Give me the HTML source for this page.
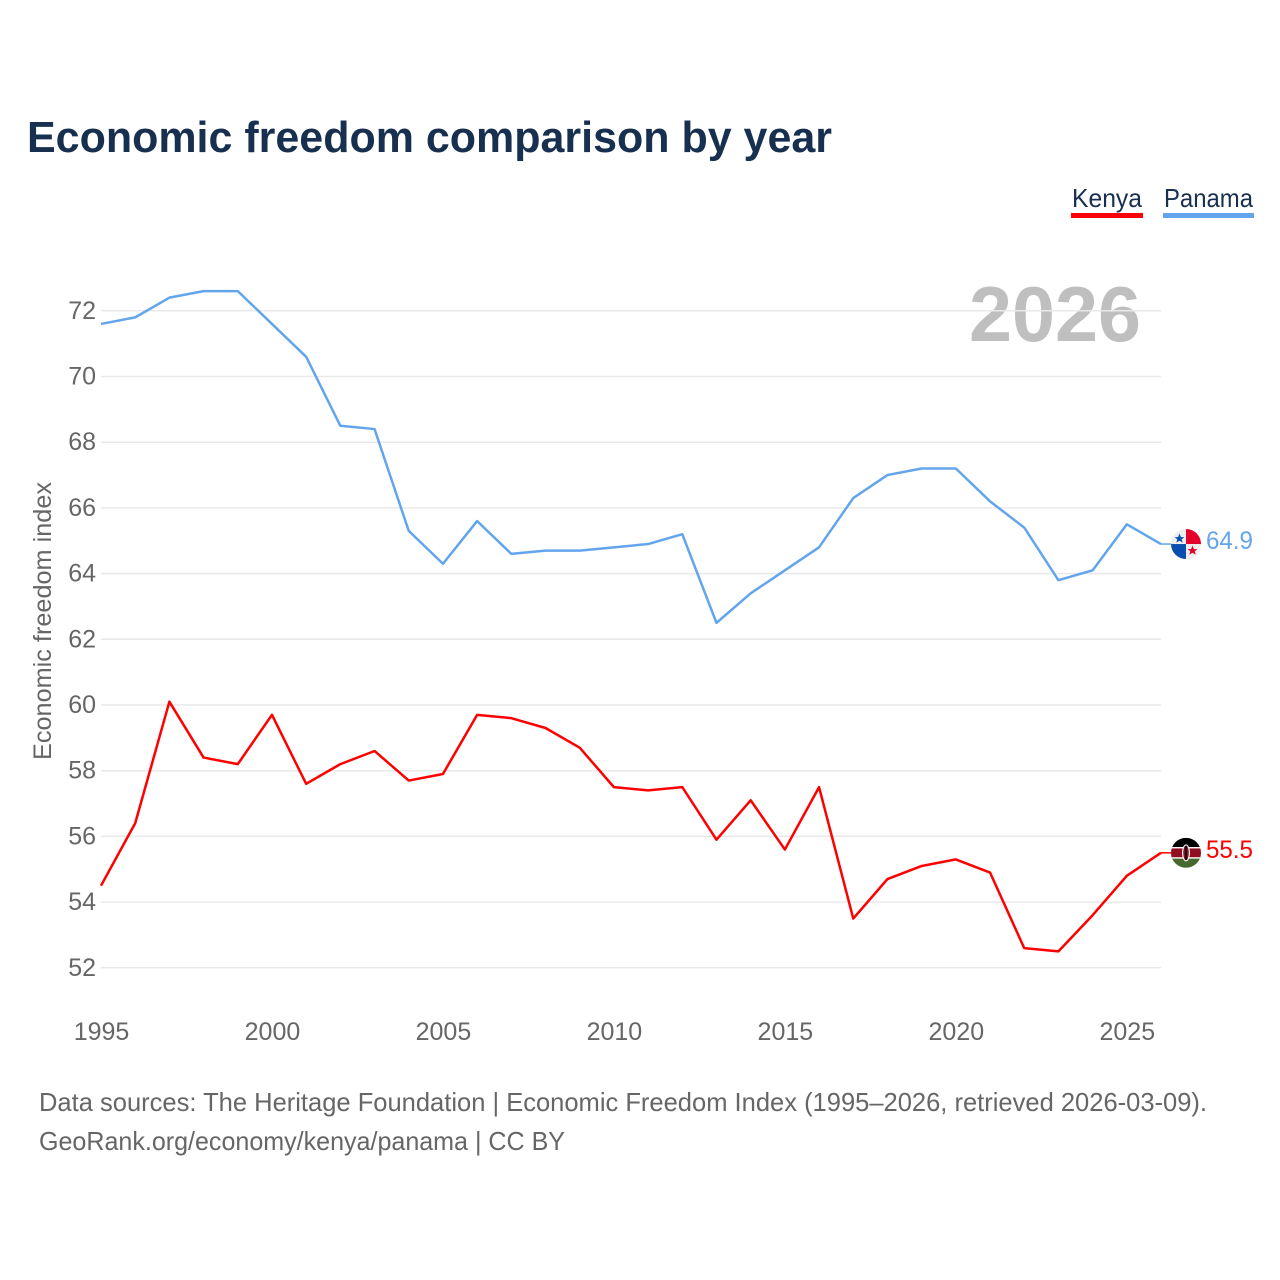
<!DOCTYPE html>
<html lang="en">
<head>
<meta charset="utf-8">
<title>Economic freedom comparison by year</title>
<style>
html,body{margin:0;padding:0;background:#fff;width:1280px;height:1280px;overflow:hidden}
svg{display:block;font-family:"Liberation Sans",sans-serif}
</style>
</head>
<body>
<svg id="chart" xmlns="http://www.w3.org/2000/svg" width="1280" height="1280" viewBox="0 0 1280 1280">
  <defs>
    <clipPath id="clip-flag"><circle cx="0" cy="0" r="15"/></clipPath>
  </defs>
  <text x="27" y="152" font-size="44" font-weight="700" fill="#18304f" textLength="805" lengthAdjust="spacingAndGlyphs">Economic freedom comparison by year</text>

  <g>
    <g>
      <text x="1072" y="207" font-size="26" fill="#18304f" textLength="70" lengthAdjust="spacingAndGlyphs">Kenya</text>
      <rect x="1071" y="213" width="72" height="5" fill="#ff0000"/>
    </g>
    <g>
      <text x="1164" y="207" font-size="26" fill="#18304f" textLength="89" lengthAdjust="spacingAndGlyphs">Panama</text>
      <rect x="1163" y="213" width="91" height="5" fill="#63a5ec"/>
    </g>
  </g>

  <text x="969" y="341" font-size="78" font-weight="700" fill="#bfbfbf" textLength="172" lengthAdjust="spacingAndGlyphs">2026</text>

  <g id="grid"></g>
  <g id="y-ticks"></g>
  <g id="x-ticks"></g>
  <text transform="translate(51 621) rotate(-90)" text-anchor="middle" font-size="25" fill="#666666" textLength="278" lengthAdjust="spacingAndGlyphs">Economic freedom index</text>
  <g id="series"></g>

  <g id="flag-panama">
    <g clip-path="url(#clip-flag)">
      <rect x="-15" y="-15" width="30" height="30" fill="#eeeeee"/>
      <rect x="0" y="-15" width="15" height="15" fill="#e4002b"/>
      <rect x="-15" y="0" width="15" height="15" fill="#0a4fb0"/>
      <polygon points="-6.5,-10 -5.1,-6.4 -1.6,-6.4 -4.3,-4.1 -3.3,-0.9 -6.5,-2.8 -9.7,-0.9 -8.7,-4.1 -11.4,-6.4 -7.9,-6.4" fill="#0a4fb0" transform="translate(0 -0.5)"/>
      <polygon points="6.5,1.5 7.9,5.1 11.4,5.1 8.7,7.4 9.7,10.6 6.5,8.7 3.3,10.6 4.3,7.4 1.6,5.1 5.1,5.1" fill="#e4002b"/>
    </g>
  </g>
  <g id="flag-kenya">
    <g clip-path="url(#clip-flag)">
      <rect x="-15" y="-15" width="30" height="10" fill="#000000"/>
      <rect x="-15" y="-5" width="30" height="10" fill="#8f0e22"/>
      <rect x="-15" y="5" width="30" height="10" fill="#466a2e"/>
      <rect x="-15" y="-5.8" width="30" height="1.4" fill="#ffffff"/>
      <rect x="-15" y="4.4" width="30" height="1.4" fill="#ffffff"/>
      <ellipse cx="0" cy="0" rx="4" ry="8.5" fill="#ffffff"/>
      <ellipse cx="0" cy="0" rx="2.8" ry="7.5" fill="#8f0e22"/>
      <rect x="-1" y="-7" width="2" height="14" fill="#111111"/>
    </g>
  </g>

  <g>
    <text x="39" y="1111" font-size="26" fill="#666666" textLength="1168" lengthAdjust="spacingAndGlyphs">Data sources: The Heritage Foundation | Economic Freedom Index (1995–2026, retrieved 2026-03-09).</text>
    <text x="39" y="1150" font-size="26" fill="#666666" textLength="526" lengthAdjust="spacingAndGlyphs">GeoRank.org/economy/kenya/panama | CC BY</text>
  </g>
</svg>
<script>
const years = [1995,1996,1997,1998,1999,2000,2001,2002,2003,2004,2005,2006,2007,2008,2009,2010,2011,2012,2013,2014,2015,2016,2017,2018,2019,2020,2021,2022,2023,2024,2025,2026];
const panamaValues = [71.6,71.8,72.4,72.6,72.6,71.6,70.6,68.5,68.4,65.3,64.3,65.6,64.6,64.7,64.7,64.8,64.9,65.2,62.5,63.4,64.1,64.8,66.3,67.0,67.2,67.2,66.2,65.4,63.8,64.1,65.5,64.9];
const kenyaValues = [54.5,56.4,60.1,58.4,58.2,59.7,57.6,58.2,58.6,57.7,57.9,59.7,59.6,59.3,58.7,57.5,57.4,57.5,55.9,57.1,55.6,57.5,53.5,54.7,55.1,55.3,54.9,52.6,52.5,53.6,54.8,55.5];
const yTickValues = [52,54,56,58,60,62,64,66,68,70,72];
const xTickValues = [1995,2000,2005,2010,2015,2020,2025];

const NS = 'http://www.w3.org/2000/svg';
function xScale(year){ return 101 + (year - 1995) * (1161 - 101) / 31; }
function yScale(value){ return 967.8 - (value - 52) * (967.8 - 310.8) / 20; }
function make(tag, attrs, parent){
  const el = document.createElementNS(NS, tag);
  for (const k in attrs) el.setAttribute(k, attrs[k]);
  parent.appendChild(el);
  return el;
}

const gridGroup = document.getElementById('grid');
const yGroup = document.getElementById('y-ticks');
const xGroup = document.getElementById('x-ticks');
const seriesGroup = document.getElementById('series');
const svgRoot = document.getElementById('chart');

yTickValues.forEach(function(v){
  const line = make('line', {x1:101, x2:1161, y1:yScale(v), y2:yScale(v), stroke:'#e9e9e9', 'stroke-width':1.5}, gridGroup);
  
  
  const label = make('text', {x:96, y:yScale(v) + 8, 'text-anchor':'end', 'font-size':25, fill:'#666666'}, yGroup);
  label.textContent = String(v);
  
  
});

xTickValues.forEach(function(y){
  const label = make('text', {x:xScale(y) + 0.5, y:1040, 'text-anchor':'middle', 'font-size':25, fill:'#666666'}, xGroup);
  label.textContent = String(y);
  
  
});

function drawSeries(name, values, color, flagId){
  const pts = values.map(function(v, i){ return xScale(years[i]).toFixed(2) + ',' + yScale(v).toFixed(2); }).join(' ');
  const line = make('polyline', {points:pts, fill:'none', stroke:color, 'stroke-width':2.5, 'stroke-linejoin':'round'}, seriesGroup);
  
  
  const last = values[values.length - 1];
  const ly = yScale(last);
  const lx = xScale(years[years.length - 1]);
  const connector = make('line', {x1:lx, x2:lx + 10, y1:ly, y2:ly, stroke:color, 'stroke-width':1.5}, seriesGroup);
  
  
  document.getElementById(flagId).setAttribute('transform', 'translate(' + (lx + 25) + ' ' + ly + ')');
  const label = make('text', {x:1206, y:ly + 5, 'font-size':25, fill:color, textLength:47, lengthAdjust:'spacingAndGlyphs'}, svgRoot);
  label.textContent = last.toFixed(1);
  
  
}
drawSeries('kenya', kenyaValues, '#ff0000', 'flag-kenya');
drawSeries('panama', panamaValues, '#63a5ec', 'flag-panama');
</script>
</body>
</html>
